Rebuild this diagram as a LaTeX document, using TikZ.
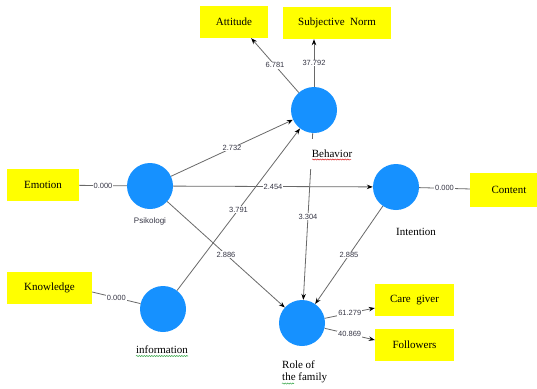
\documentclass[tikz,border=0pt]{standalone}
\usepackage{fontspec}
\setmainfont{Liberation Serif}
\newfontfamily\lblfont{Liberation Sans}
\usetikzlibrary{arrows.meta,decorations.pathmorphing}
\definecolor{lv}{RGB}{22,145,255}
\definecolor{ind}{RGB}{255,255,0}
\definecolor{edgec}{RGB}{105,105,105}
\definecolor{wt}{RGB}{55,55,70}
\definecolor{spellred}{RGB}{220,30,30}
\definecolor{spellgreen}{RGB}{40,160,60}
\begin{document}
\begin{tikzpicture}[x=1pt,y=-1pt,
 lvnode/.style={circle,fill=lv,minimum size=46pt,inner sep=0pt},
 indbox/.style={rectangle,fill=ind,minimum height=32pt,inner sep=0pt,font=\fontsize{11}{12}\selectfont},
 conn/.style={draw=edgec,line width=0.8pt},
 arr/.style={conn,-{Stealth[length=6pt,width=4.5pt,color=black]}},
 wlab/.style={fill=white,inner sep=0.8pt,font=\lblfont\fontsize{7.5}{8}\selectfont,text=wt},
 nlab/.style={font=\fontsize{11}{12}\selectfont,inner sep=1pt},
 spell/.style={decorate,decoration={snake,amplitude=0.6pt,segment length=2.5pt},line width=0.5pt}
 ]
\clip (0,0) rectangle (537,388);
\fill[white] (0,0) rectangle (537,388);

% latent variables
\node[lvnode] (beh) at (314,110) {};
\node[lvnode] (psi) at (150,186) {};
\node[lvnode] (int) at (396,187) {};
\node[lvnode] (inf) at (163,309) {};
\node[lvnode] (rol) at (302,323) {};

% indicators
\node[indbox,minimum width=68pt] (att) at (234,22) {Attitude};
\node[indbox,minimum width=108pt] (sn) at (337,23) {Subjective\ \ Norm};
\node[indbox,minimum width=72pt] (emo) at (43,185) {Emotion};
\node[indbox,minimum width=78pt,minimum height=34pt] (con) at (509,190) {Content};
\node[indbox,minimum width=85pt] (kno) at (49.5,288) {Knowledge};
\node[indbox,minimum width=79pt] (cg) at (414.5,300) {Care\ \ giver};
\node[indbox,minimum width=79pt] (fol) at (414.5,345) {Followers};

% connectors
\draw[arr] (beh) -- node[wlab]{6.781} ([xshift=-17pt]att.south east);
\draw[arr] (beh) -- node[wlab]{37.792} (beh |- sn.south);
\draw[arr] (psi) -- node[wlab]{2.732} (beh);
\draw[arr] (psi) -- node[wlab]{2.454} (int);
\draw[arr] (psi) -- node[wlab]{2.886} (rol);
\draw[arr] (inf) -- node[wlab]{3.791} (beh);
\draw[arr] (beh) -- node[wlab]{3.304} (rol);
\draw[arr] (int) -- node[wlab]{2.885} (rol);
\draw[arr] (rol) -- node[wlab]{61.279} ([yshift=-8pt]cg.west);
\draw[arr] (rol) -- node[wlab]{40.869} ([yshift=5pt]fol.west);
\draw[conn] (emo) -- node[wlab]{0.000} (psi);
\draw[conn] (int) -- node[wlab]{0.000} (con);
\draw[conn] ([yshift=-4pt]kno.east) -- node[wlab]{0.000} (inf);

% construct labels
\node[nlab,font=\lblfont\fontsize{8}{9}\selectfont,text=wt] (psil) at (150,221) {Psikologi};
\node[nlab,fill=white,minimum height=30pt,inner xsep=4pt] (behl) at (332,154) {Behavior};
\node[nlab] (intl) at (416,232) {Intention};
\node[nlab] (infl) at (162,350) {information};
\node[nlab,align=left,anchor=north west] (roll) at (281,360) {Role of\\the family};

% spell-check underlines
\draw[spell,spellred] ([xshift=-20pt,yshift=-5.5pt]behl.center) -- ([xshift=19pt,yshift=-5.5pt]behl.center);
\draw[spell,spellgreen] ([xshift=-26pt,yshift=-6pt]infl.center) -- ([xshift=26pt,yshift=-6pt]infl.center);
\draw[spell,spellgreen] ([xshift=1pt,yshift=1pt]roll.south west) -- ([xshift=13pt,yshift=1pt]roll.south west);
\end{tikzpicture}
\end{document}
